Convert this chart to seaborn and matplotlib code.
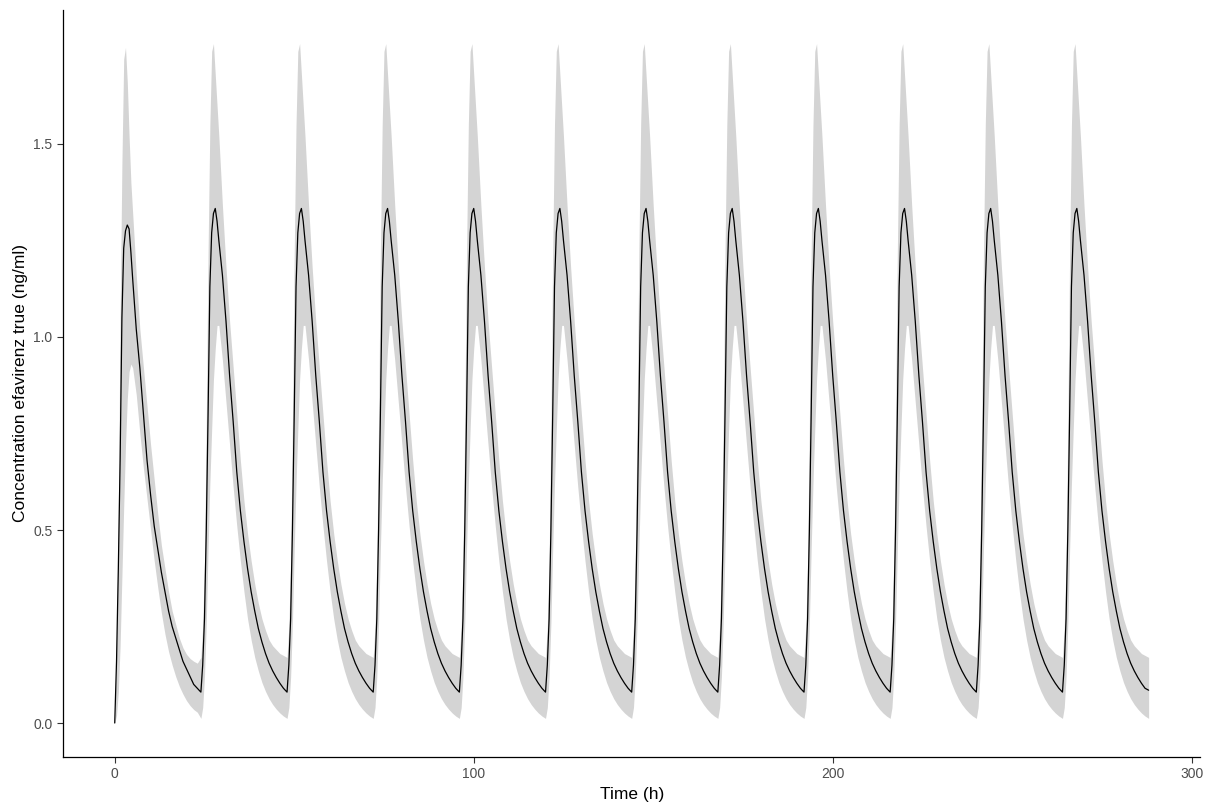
import numpy as np
import pandas as pd
import matplotlib
matplotlib.use("Agg")
import matplotlib.pyplot as plt
import seaborn as sns

# ---- data ----
# time within one 24 h dosing interval (h)
t_cycle = [0, 0.5, 1, 1.5, 2, 2.5, 3, 3.5, 4, 4.5, 5,
           6, 7, 8, 9, 10, 11, 12, 13, 14, 15, 16, 17, 18, 19, 20, 21, 22, 23]

# first dose (0-24 h)
first_median = [0.0, 0.16, 0.40, 0.68, 1.05, 1.23, 1.275, 1.29, 1.28, 1.22, 1.15,
                1.02, 0.92, 0.80, 0.68, 0.59, 0.51, 0.45, 0.39, 0.34, 0.29, 0.25,
                0.22, 0.19, 0.16, 0.14, 0.12, 0.10, 0.09]
first_upper = [0.0, 0.20, 0.55, 1.05, 1.45, 1.72, 1.75, 1.66, 1.52, 1.40, 1.32,
               1.16, 1.02, 0.92, 0.82, 0.72, 0.63, 0.54, 0.46, 0.40, 0.34, 0.29,
               0.255, 0.22, 0.195, 0.178, 0.167, 0.16, 0.155]
first_lower = [0.0, 0.02, 0.08, 0.20, 0.38, 0.56, 0.72, 0.84, 0.91, 0.93, 0.92,
               0.85, 0.75, 0.66, 0.58, 0.50, 0.42, 0.35, 0.285, 0.23, 0.185, 0.15,
               0.12, 0.095, 0.075, 0.058, 0.045, 0.035, 0.028]

# subsequent doses (steady state)
ss_median = [0.08, 0.15, 0.27, 0.50, 0.80, 1.13, 1.27, 1.32, 1.333, 1.30, 1.25,
             1.16, 1.04, 0.90, 0.78, 0.65, 0.55, 0.47, 0.40, 0.34, 0.29, 0.245,
             0.21, 0.18, 0.155, 0.135, 0.118, 0.103, 0.09]
ss_upper = [0.17, 0.25, 0.42, 0.78, 1.22, 1.55, 1.74, 1.76, 1.68, 1.60, 1.52,
            1.34, 1.18, 1.04, 0.92, 0.80, 0.68, 0.575, 0.49, 0.42, 0.36, 0.31,
            0.27, 0.24, 0.215, 0.20, 0.19, 0.18, 0.175]
ss_lower = [0.012, 0.04, 0.12, 0.26, 0.45, 0.62, 0.76, 0.89, 0.97, 1.03, 1.03,
            0.94, 0.83, 0.72, 0.61, 0.51, 0.42, 0.34, 0.27, 0.215, 0.17, 0.135,
            0.105, 0.082, 0.063, 0.048, 0.036, 0.026, 0.018]

dose_times = [0, 24, 48, 72, 96, 120, 144, 168, 192, 216, 240, 264]
end_time = 288
end_median, end_upper, end_lower = 0.085, 0.17, 0.012

x_ticks = [0, 100, 200, 300]
y_ticks = [0.0, 0.5, 1.0, 1.5]
x_label = "Time (h)"
y_label = "Concentration efavirenz true (ng/ml)"

# ---- assemble ----
rows = []
for i, d in enumerate(dose_times):
    med, up, lo = (first_median, first_upper, first_lower) if i == 0 else (ss_median, ss_upper, ss_lower)
    for t, m, u, l in zip(t_cycle, med, up, lo):
        rows.append((d + t, m, u, l))
rows.append((end_time, end_median, end_upper, end_lower))
df = pd.DataFrame(rows, columns=["time", "median", "upper", "lower"])

# ---- plot ----
sns.set_theme(style="ticks")
plt.rcParams["font.family"] = ["Liberation Sans", "DejaVu Sans"]

fig = plt.figure(figsize=(12.17, 8.11), dpi=100)
ax = fig.add_axes([0.0518, 0.0666, 0.9345, 0.9215])

ax.fill_between(df["time"], df["lower"], df["upper"], color="#D4D4D4", linewidth=0)
sns.lineplot(data=df, x="time", y="median", ax=ax, color="black", linewidth=0.9,
             estimator=None, sort=False)

ax.set_xlim(-14.4, 302.4)
ax.set_ylim(-0.088, 1.848)
ax.set_xticks(x_ticks)
ax.set_xticklabels([str(v) for v in x_ticks])
ax.set_yticks(y_ticks)
ax.set_yticklabels([f"{v:.1f}" for v in y_ticks])
ax.tick_params(axis="both", colors="#333333", labelcolor="#4D4D4D", labelsize=10,
               length=4, width=0.8, direction="out")
ax.set_xlabel(x_label, fontsize=12.5, color="black")
ax.set_ylabel(y_label, fontsize=12.5, color="black")
for s in ["left", "bottom"]:
    ax.spines[s].set_color("black")
    ax.spines[s].set_linewidth(0.9)
sns.despine(ax=ax)
ax.grid(False)

fig.savefig("out.png", dpi=100)
